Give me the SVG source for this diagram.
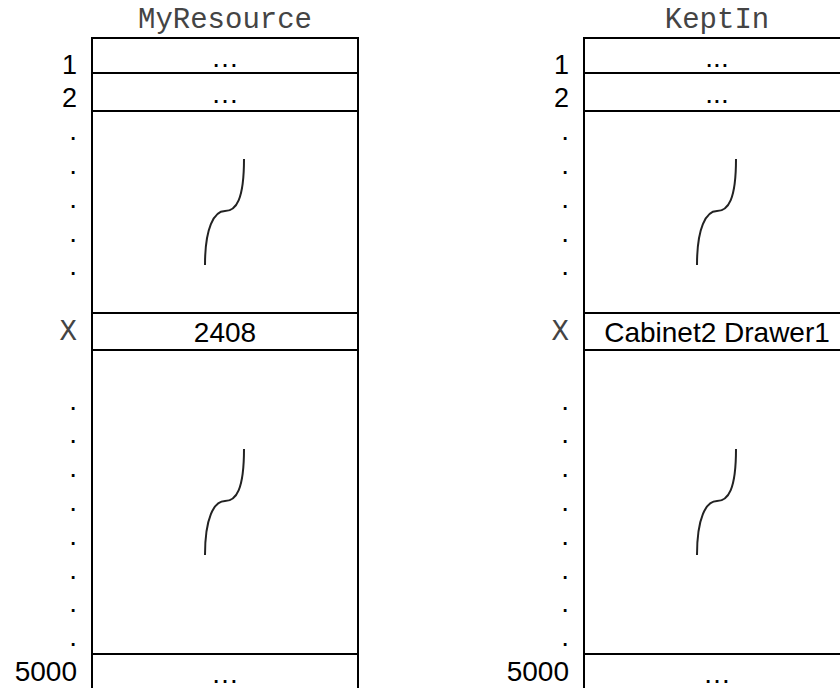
<svg xmlns="http://www.w3.org/2000/svg" width="840" height="688" viewBox="0 0 840 688">
<style>
.tbl{fill:#fff;stroke:#000;stroke-width:2}
.ln{stroke:#000;stroke-width:2}
.mono{font-family:"Liberation Mono","Courier New",monospace;font-size:29px;fill:#444}
.sans{font-family:"Liberation Sans",Arial,sans-serif;fill:#000}
.num{font-size:27px;text-anchor:end}
.big{font-size:28px}
.cell{font-size:28px;text-anchor:middle}
.dot{font-size:28px;text-anchor:end}
.brk{fill:none;stroke:#222;stroke-width:2}
</style>
<defs>
<path id="brk" class="brk" d="M205,265 C205,228 214,211 225,211 C236,211 244,200 244,159"/>
</defs>
<rect width="840" height="688" fill="#fff"/>

<g id="myresource">
<text class="mono" x="225" y="28" text-anchor="middle">MyResource</text>
<rect class="tbl" x="92" y="38" width="266" height="670"/>
<line class="ln" x1="92" y1="73" x2="358" y2="73"/>
<line class="ln" x1="92" y1="111" x2="358" y2="111"/>
<line class="ln" x1="92" y1="313" x2="358" y2="313"/>
<line class="ln" x1="92" y1="350" x2="358" y2="350"/>
<line class="ln" x1="92" y1="654" x2="358" y2="654"/>
<text class="sans cell" x="225" y="67">…</text>
<text class="sans cell" x="225" y="103">…</text>
<text class="sans cell" x="225" y="342">2408</text>
<text class="sans cell" x="225" y="683">…</text>
<use href="#brk"/>
<use href="#brk" transform="translate(0,290)"/>
<g class="sans">
<text class="num" x="77" y="74">1</text>
<text class="num" x="77" y="107">2</text>
<text class="dot" x="77" y="140">.</text>
<text class="dot" x="77" y="174">.</text>
<text class="dot" x="77" y="208">.</text>
<text class="dot" x="77" y="242">.</text>
<text class="dot" x="77" y="275">.</text>
<text class="dot" x="77" y="410">.</text>
<text class="dot" x="77" y="443">.</text>
<text class="dot" x="77" y="477">.</text>
<text class="dot" x="77" y="511">.</text>
<text class="dot" x="77" y="545">.</text>
<text class="dot" x="77" y="579">.</text>
<text class="dot" x="77" y="612">.</text>
<text class="dot" x="77" y="646">.</text>
<text class="big" x="77" y="681" text-anchor="end">5000</text>
</g>
<text class="mono" x="77" y="340" text-anchor="end">X</text>
</g>

<g id="keptin">
<text class="mono" x="717" y="28" text-anchor="middle">KeptIn</text>
<rect class="tbl" x="584" y="38" width="266" height="670"/>
<line class="ln" x1="584" y1="73" x2="850" y2="73"/>
<line class="ln" x1="584" y1="111" x2="850" y2="111"/>
<line class="ln" x1="584" y1="313" x2="850" y2="313"/>
<line class="ln" x1="584" y1="350" x2="850" y2="350"/>
<line class="ln" x1="584" y1="654" x2="850" y2="654"/>
<text class="sans cell" x="717" y="67">...</text>
<text class="sans cell" x="717" y="103">...</text>
<text class="sans cell" x="717" y="342">Cabinet2 Drawer1</text>
<text class="sans cell" x="717" y="683">…</text>
<use href="#brk" transform="translate(492,0)"/>
<use href="#brk" transform="translate(492,290)"/>
<g class="sans">
<text class="num" x="569" y="74">1</text>
<text class="num" x="569" y="107">2</text>
<text class="dot" x="569" y="140">.</text>
<text class="dot" x="569" y="174">.</text>
<text class="dot" x="569" y="208">.</text>
<text class="dot" x="569" y="242">.</text>
<text class="dot" x="569" y="275">.</text>
<text class="dot" x="569" y="410">.</text>
<text class="dot" x="569" y="443">.</text>
<text class="dot" x="569" y="477">.</text>
<text class="dot" x="569" y="511">.</text>
<text class="dot" x="569" y="545">.</text>
<text class="dot" x="569" y="579">.</text>
<text class="dot" x="569" y="612">.</text>
<text class="dot" x="569" y="646">.</text>
<text class="big" x="569" y="681" text-anchor="end">5000</text>
</g>
<text class="mono" x="569" y="340" text-anchor="end">X</text>
</g>

<g id="connectors"></g>
</svg>
